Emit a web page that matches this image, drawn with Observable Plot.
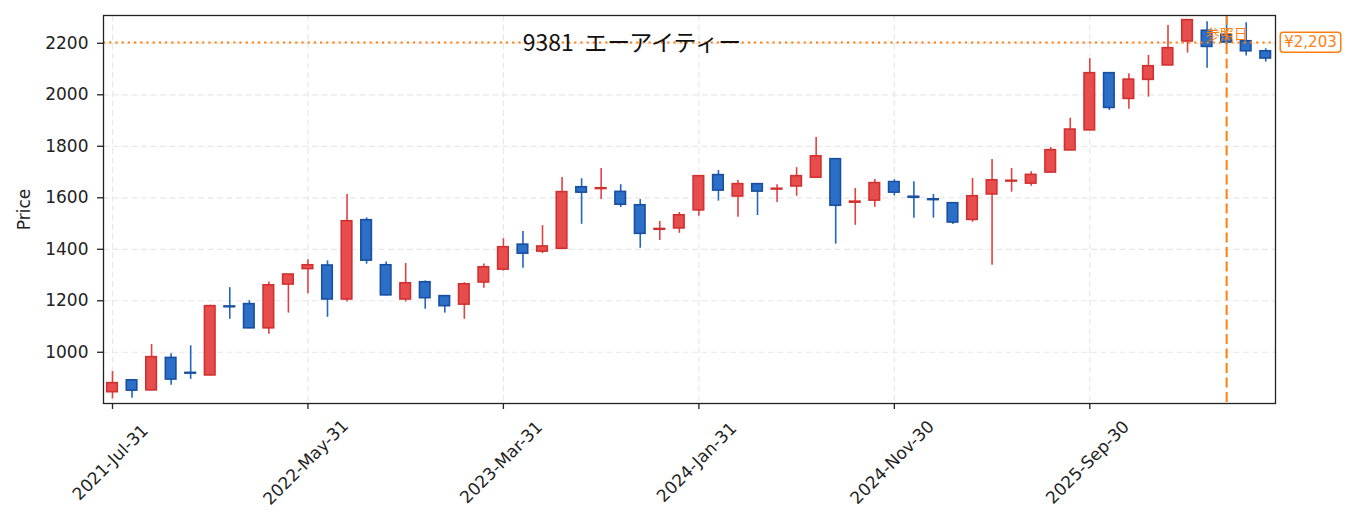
<!DOCTYPE html>
<html>
<head>
<meta charset="utf-8">
<script src="https://cdn.jsdelivr.net/npm/d3@7"></script>
<script src="https://cdn.jsdelivr.net/npm/@observablehq/plot@0.6"></script>
<style>
  html, body { margin: 0; padding: 0; background: #fff; }
  #wrap { position: relative; width: 1353px; height: 531px; }
  #title { position: absolute; top: 24px; left: 632px; transform: translateX(-50%);
           font-family: "Noto Sans CJK JP", "DejaVu Sans", sans-serif; font-size: 23px; color: #111;
           white-space: pre; pointer-events: none; z-index: 2; }
</style>
</head>
<body>
<div id="wrap"><div id="title">9381  エーアイティー</div></div>
<script>
// Monthly candles, index 0 = 2021-Jul-31
const opens  = [845, 891, 852, 978, 920, 910, 1178, 1187, 1093, 1263,
                1323, 1337, 1205, 1513, 1338, 1205, 1272, 1218, 1185, 1271,
                1321, 1418, 1391, 1402, 1641, 1634, 1623, 1571, 1476, 1481,
                1551, 1688, 1605, 1653, 1632, 1644, 1678, 1750, 1581, 1589,
                1661, 1604, 1594, 1579, 1514, 1613, 1663, 1655, 1698, 1784,
                1862, 2084, 1984, 2058, 2114, 2207, 2249, 2233, 2208, 2169];
const highs  = [925, 893, 1030, 994, 1025, 1183, 1251, 1200, 1273, 1303,
                1359, 1355, 1613, 1522, 1351, 1345, 1277, 1219, 1270, 1343,
                1441, 1469, 1492, 1679, 1674, 1714, 1651, 1593, 1508, 1543,
                1686, 1706, 1667, 1655, 1651, 1717, 1834, 1752, 1636, 1671,
                1670, 1662, 1613, 1580, 1675, 1749, 1714, 1701, 1796, 1909,
                2140, 2086, 2082, 2153, 2269, 2292, 2284, 2300, 2280, 2179];
const lows   = [819, 821, 850, 872, 895, 909, 1128, 1092, 1070, 1152,
                1227, 1136, 1195, 1342, 1219, 1195, 1167, 1152, 1128, 1249,
                1315, 1326, 1383, 1401, 1497, 1593, 1562, 1404, 1434, 1462,
                1528, 1587, 1524, 1531, 1582, 1606, 1677, 1420, 1493, 1563,
                1607, 1521, 1521, 1496, 1505, 1338, 1622, 1645, 1697, 1783,
                1861, 1939, 1944, 1991, 2113, 2162, 2103, 2195, 2151, 2127];
const closes = [880, 851, 981, 894, 917, 1179, 1175, 1093, 1260, 1302,
                1338, 1205, 1509, 1356, 1221, 1268, 1210, 1179, 1264, 1330,
                1408, 1383, 1411, 1622, 1620, 1637, 1573, 1460, 1479, 1532,
                1684, 1628, 1653, 1624, 1635, 1684, 1761, 1569, 1585, 1657,
                1620, 1600, 1591, 1504, 1606, 1668, 1666, 1689, 1785, 1865,
                2084, 1949, 2059, 2111, 2181, 2290, 2186, 2203, 2169, 2141];

const xTickIdx    = [0, 10, 20, 30, 40, 50];
const xTickLabels = ["2021-Jul-31", "2022-May-31", "2023-Mar-31", "2024-Jan-31", "2024-Nov-30", "2025-Sep-30"];
const yTicks      = [1000, 1200, 1400, 1600, 1800, 2000, 2200];
const refIndex    = 57;
const refPrice    = 2203;
const refLabel    = "参照日";

const candles = opens.map((o, i) => ({i, open: o, high: highs[i], low: lows[i], close: closes[i], up: closes[i] >= o}));

const RED_FILL = "#e84d4d", RED_EDGE = "#d23030", RED_WICK = "#e04242";
const BLUE_FILL = "#2b6fc8", BLUE_EDGE = "#1a4f9f", BLUE_WICK = "#1f65c2";
const ORANGE = "#ff7f0e";
const GRID = "#e8e8e8";
const INK = "#222";
const HALF = 0.27;

const chart = Plot.plot({
  width: 1353,
  height: 531,
  marginLeft: 103,
  marginRight: 78,
  marginTop: 15,
  marginBottom: 128,
  style: {fontFamily: '"DejaVu Sans", "Noto Sans CJK JP", sans-serif', fontSize: "17px", color: INK, background: "#fff", overflow: "visible"},
  x: {type: "linear", domain: [-0.46, 59.5]},
  y: {type: "linear", domain: [801, 2308]},
  marks: [
    Plot.gridY(yTicks, {stroke: GRID, strokeOpacity: 1, strokeWidth: 1.2, strokeDasharray: "6,3.5"}),
    Plot.gridX(xTickIdx, {stroke: GRID, strokeOpacity: 1, strokeWidth: 1.2, strokeDasharray: "6,3.5"}),
    Plot.ruleX(candles, {x: "i", y1: "low", y2: "high", stroke: d => d.up ? RED_WICK : BLUE_WICK, strokeWidth: 1.6}),
    Plot.rectY(candles, {x1: d => d.i - HALF, x2: d => d.i + HALF, y1: "open", y2: "close",
      fill: d => d.up ? RED_FILL : BLUE_FILL, stroke: d => d.up ? RED_EDGE : BLUE_EDGE, strokeWidth: 1.6}),
    Plot.ruleY([refPrice], {y: d => d, stroke: ORANGE, strokeWidth: 2, strokeDasharray: "2.2,4"}),
    Plot.ruleX([refIndex], {x: d => d, stroke: ORANGE, strokeWidth: 2, strokeDasharray: "10,4.5"}),
    Plot.text([refIndex], {x: d => d, frameAnchor: "top", dy: 19, text: () => refLabel, fill: ORANGE,
      fontSize: 14, lineAnchor: "middle", fontFamily: '"Noto Sans CJK JP", sans-serif'}),
    Plot.frame({stroke: INK, strokeWidth: 1.3}),
    Plot.axisY(yTicks, {anchor: "left", tickSize: 6, tickPadding: 9, stroke: INK, fill: INK, fontSize: 17, label: null,
      strokeWidth: 1.3, tickFormat: d => String(d)}),
    Plot.axisX(xTickIdx, {anchor: "bottom", tickSize: 6, tickFormat: () => "", stroke: INK, label: null, strokeWidth: 1.3}),
    Plot.text(xTickIdx, {x: d => d, frameAnchor: "bottom", text: (d, i) => xTickLabels[i], rotate: -45,
      textAnchor: "middle", lineAnchor: "middle", dy: 59, dx: -2, fontSize: 17, fill: INK}),
    Plot.text(["Price"], {frameAnchor: "left", text: d => d, rotate: -90, dx: -79, fontSize: 17, fill: INK, lineAnchor: "middle", textAnchor: "middle"}),
    Plot.text([refPrice], {y: d => d, frameAnchor: "right", dx: 35, text: d => "¥" + d3.format(",")(d),
      fill: ORANGE, fontSize: 15, textAnchor: "middle", lineAnchor: "middle", clip: false})
  ]
});

const wrap = document.getElementById("wrap");
wrap.insertBefore(chart, wrap.firstChild);

// rounded box behind the price label
const priceText = "¥" + d3.format(",")(refPrice);
d3.select(chart).selectAll("text").filter(function() { return this.textContent === priceText; }).each(function() {
  const b = this.getBBox();
  const rect = document.createElementNS("http://www.w3.org/2000/svg", "rect");
  rect.setAttribute("x", b.x - 4);
  rect.setAttribute("y", b.y - 1);
  rect.setAttribute("width", b.width + 8);
  rect.setAttribute("height", b.height + 2);
  rect.setAttribute("rx", 3);
  rect.setAttribute("fill", "#fff");
  rect.setAttribute("stroke", ORANGE);
  rect.setAttribute("stroke-width", 1.5);
  const tr = this.getAttribute("transform");
  if (tr) rect.setAttribute("transform", tr);
  this.parentNode.insertBefore(rect, this);
});
</script>
</body>
</html>
